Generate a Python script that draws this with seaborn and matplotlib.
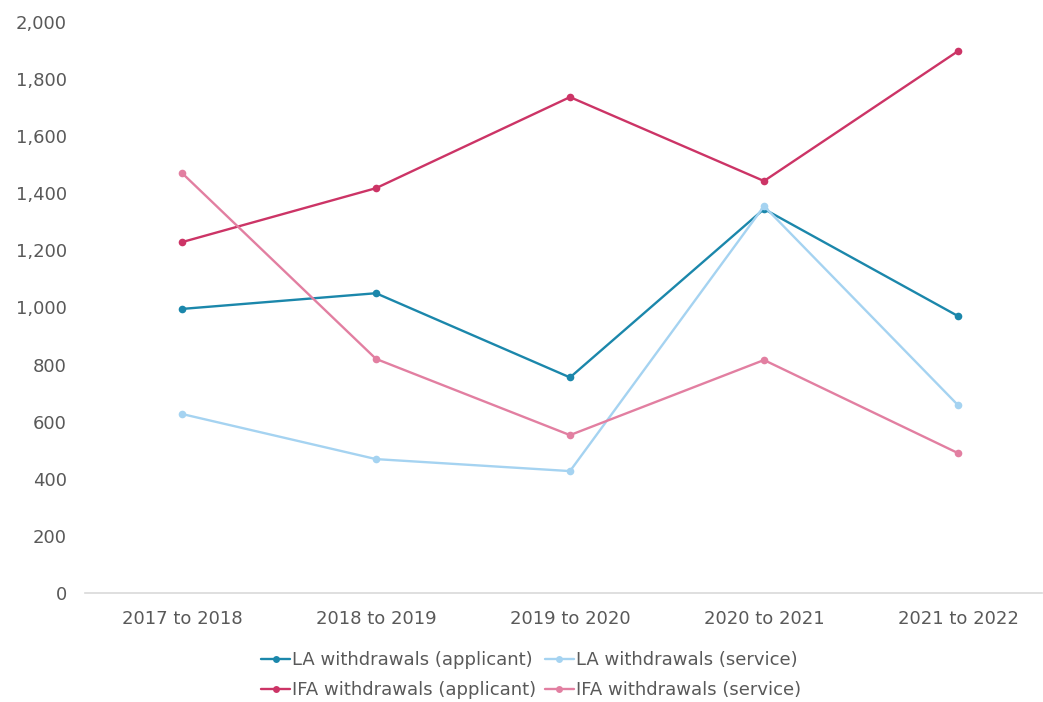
import matplotlib
matplotlib.use("Agg")
import matplotlib.pyplot as plt
import seaborn as sns
import pandas as pd
from matplotlib.ticker import FuncFormatter

years = ["2017 to 2018", "2018 to 2019", "2019 to 2020", "2020 to 2021", "2021 to 2022"]
la_applicant = [995, 1050, 755, 1345, 970]
la_service = [627, 469, 427, 1355, 658]
ifa_applicant = [1229, 1418, 1737, 1443, 1898]
ifa_service = [1471, 820, 553, 816, 490]

series_names = [
    "LA withdrawals (applicant)",
    "LA withdrawals (service)",
    "IFA withdrawals (applicant)",
    "IFA withdrawals (service)",
]
series_values = [la_applicant, la_service, ifa_applicant, ifa_service]
colors = ["#1b87ab", "#a5d3f1", "#cc3466", "#e27fa1"]

rows = []
for name, vals in zip(series_names, series_values):
    for yr, v in zip(years, vals):
        rows.append({"year": yr, "value": v, "series": name})
df = pd.DataFrame(rows)

sns.set_style("white")
plt.rcParams["font.family"] = ["DejaVu Sans"]

fig = plt.figure(figsize=(10.43, 7.02), dpi=100)
ax = fig.add_axes([85 / 1043, 1 - 593 / 702, (1042 - 85) / 1043, (593 - 22) / 702])

sns.lineplot(
    data=df, x="year", y="value", hue="series", hue_order=series_names,
    palette=dict(zip(series_names, colors)), marker="o", markersize=5.5,
    markeredgewidth=0, linewidth=1.7, sort=False, ax=ax, legend=False,
)

ax.set_xlim(-0.5, 4.433)
ax.set_ylim(0, 2000)
ax.set_yticks(range(0, 2001, 200))
ax.yaxis.set_major_formatter(FuncFormatter(lambda v, p: f"{int(v):,}"))
ax.set_xlabel("")
ax.set_ylabel("")

for side in ["top", "right", "left"]:
    ax.spines[side].set_visible(False)
ax.spines["bottom"].set_color("#d9d9d9")
ax.spines["bottom"].set_linewidth(1.2)
ax.tick_params(axis="both", length=0, labelsize=13, labelcolor="#595959")
ax.tick_params(axis="y", pad=13)
ax.tick_params(axis="x", pad=12)
ax.grid(False)

handles = [
    plt.Line2D([], [], color=c, marker="o", markersize=5, markeredgewidth=0, linewidth=1.7)
    for c in colors
]
order = [0, 2, 1, 3]
leg = ax.legend(
    [handles[i] for i in order], [series_names[i] for i in order],
    ncol=2, loc="center", bbox_to_anchor=(531 / 1043, 1 - 675 / 702),
    bbox_transform=fig.transFigure, frameon=False, fontsize=13,
    handlelength=1.6, handletextpad=0.1, columnspacing=0.5, labelspacing=0.65,
)
for t in leg.get_texts():
    t.set_color("#595959")

fig.savefig("out.png", dpi=100)
